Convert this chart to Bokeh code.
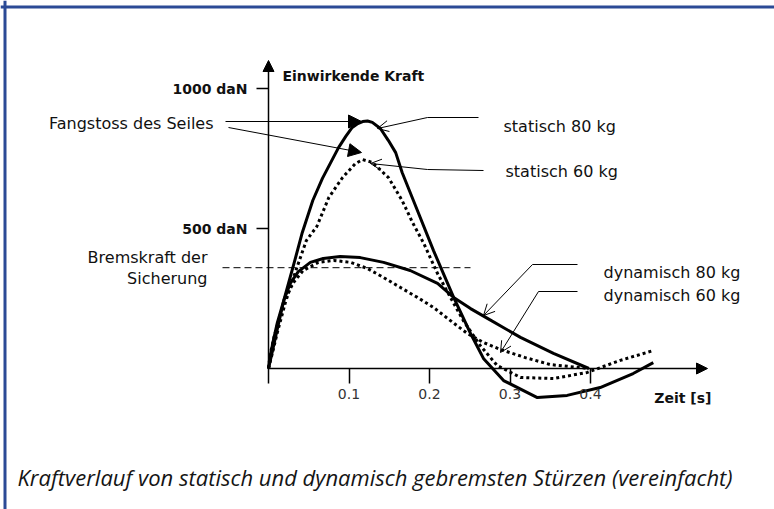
from bokeh.plotting import figure
from bokeh.models import (Range1d, LinearAxis, FixedTicker, Arrow, NormalHead,
                          OpenHead, Label, Span)
from bokeh.embed import file_html
from bokeh.resources import INLINE

# ---------------- data (time in s, force in daN) ----------------
stat80_t = [0, 0.005, 0.010, 0.019, 0.031, 0.042, 0.055, 0.067, 0.087, 0.096, 0.104,
            0.111, 0.117, 0.123, 0.129, 0.139, 0.149, 0.158, 0.166, 0.180, 0.205,
            0.230, 0.251, 0.267, 0.292, 0.334, 0.371, 0.412, 0.453, 0.478]
stat80_f = [0, 64, 129, 243, 368, 486, 600, 679, 789, 829, 861,
            875, 882, 884, 879, 857, 814, 771, 700, 600, 421,
            254, 125, 36, -43, -104, -96, -68, -18, 21]

stat60_t = [0, 0.005, 0.011, 0.021, 0.034, 0.047, 0.060, 0.075, 0.092, 0.108, 0.117,
            0.129, 0.149, 0.166, 0.179, 0.193, 0.210, 0.226, 0.242, 0.263, 0.284,
            0.313, 0.354, 0.396, 0.437, 0.478]
stat60_f = [0, 57, 129, 236, 350, 457, 507, 611, 682, 732, 746,
            736, 682, 600, 521, 446, 339, 254, 171, 82, 11,
            -32, -36, -14, 29, 64]

dyn80_t = [0, 0.002, 0.006, 0.011, 0.019, 0.027, 0.037, 0.052, 0.068, 0.089, 0.114,
           0.143, 0.176, 0.210, 0.230, 0.251, 0.272, 0.313, 0.354, 0.398]
dyn80_f = [0, 43, 100, 164, 243, 304, 346, 379, 393, 400, 396,
           379, 350, 304, 254, 214, 179, 111, 54, 0]

dyn60_t = [0, 0.002, 0.007, 0.014, 0.021, 0.031, 0.043, 0.062, 0.081, 0.102, 0.123,
           0.143, 0.164, 0.185, 0.205, 0.226, 0.247, 0.267, 0.288, 0.319, 0.350, 0.398]
dyn60_f = [0, 50, 114, 186, 250, 307, 350, 379, 386, 379, 357,
           325, 289, 254, 218, 171, 125, 93, 68, 39, 14, 0]

bremskraft = 360          # daN
x_ticks = [0, 0.1, 0.2, 0.3, 0.4]
x_tick_labels = ["", "0.1", "0.2", "0.3", "0.4"]
y_ticks = [500, 1000]
y_tick_labels = ["500 daN", "1000 daN"]

# ---------------- layout helpers (page pixels -> data) ----------------
W, H = 774, 509
OX, OY = 268, 368         # origin in page pixels
SX, SY = 805.0, 0.28      # px per s, px per daN


def X(px):
    return (px - OX) / SX


def Y(py):
    return (OY - py) / SY


p = figure(width=W, height=H, output_backend="svg", toolbar_location=None,
           x_range=Range1d(X(0), X(W)), y_range=Range1d(Y(H), Y(0)),
           x_axis_location=None, y_axis_location=None, min_border=0)
p.outline_line_color = None
p.background_fill_color = "white"
p.border_fill_color = "white"
p.grid.visible = False

# blue frame (top + left)
p.add_layout(Span(location=Y(6.5), dimension="width", line_color="#2b4a96", line_width=3))
p.add_layout(Span(location=X(4.5), dimension="height", line_color="#2b4a96", line_width=3))

FONT = "DejaVu Sans"

# axes
xaxis = LinearAxis(ticker=FixedTicker(ticks=x_ticks), fixed_location=0,
                   axis_line_color=None, major_tick_in=0, major_tick_out=15,
                   major_tick_line_width=1.5, minor_tick_line_color=None,
                   major_label_standoff=5, major_label_text_font=FONT,
                   major_label_text_font_size="14px", major_label_text_color="#333333",
                   major_label_overrides={v: s for v, s in zip(x_ticks, x_tick_labels)})
p.add_layout(xaxis, "below")
yaxis = LinearAxis(ticker=FixedTicker(ticks=y_ticks), fixed_location=0,
                   axis_line_color=None, major_tick_in=0, major_tick_out=12,
                   major_tick_line_width=1.5, minor_tick_line_color=None,
                   major_label_standoff=9, major_label_text_font=FONT,
                   major_label_text_font_size="14px", major_label_text_font_style="bold",
                   major_label_text_color="#111111",
                   major_label_overrides={v: s for v, s in zip(y_ticks, y_tick_labels)})
p.add_layout(yaxis, "left")

# axis arrows
p.add_layout(Arrow(x_start=0, y_start=0, x_end=0, y_end=Y(60), line_width=1.5,
                   end=NormalHead(size=11, fill_color="black", line_color="black")))
p.add_layout(Arrow(x_start=0, y_start=0, x_end=X(707), y_end=0, line_width=1.5,
                   end=NormalHead(size=11, fill_color="black", line_color="black")))

# Bremskraft dashed line
p.line([X(222), X(470)], [bremskraft, bremskraft], line_color="black",
       line_width=1, line_dash="7 4")

# curves
p.line(dyn60_t, dyn60_f, line_color="black", line_width=3, line_dash="3 3", line_join="round")
p.line(stat60_t, stat60_f, line_color="black", line_width=3, line_dash="3 3", line_join="round")
p.line(dyn80_t, dyn80_f, line_color="black", line_width=3, line_join="round")
p.line(stat80_t, stat80_f, line_color="black", line_width=3, line_join="round")

# leaders
p.multi_line([[X(427), X(478)], [X(427), X(483)], [X(532), X(577)], [X(538), X(577)]],
             [[Y(117), Y(117)], [Y(169), Y(170)], [Y(264), Y(264)], [Y(291), Y(291)]],
             line_color="black", line_width=1)
for (x0, y0, x1, y1) in [(427, 117, 377, 128), (427, 169, 370, 163),
                         (532, 264, 483, 315), (538, 291, 500, 352)]:
    p.add_layout(Arrow(x_start=X(x0), y_start=Y(y0), x_end=X(x1), y_end=Y(y1),
                       line_width=1, end=OpenHead(size=11, line_width=1)))
for (x0, y0, x1, y1) in [(225, 121, 361, 121), (228, 127, 361, 152)]:
    p.add_layout(Arrow(x_start=X(x0), y_start=Y(y0), x_end=X(x1), y_end=Y(y1),
                       line_width=1,
                       end=NormalHead(size=13, fill_color="black", line_color="black")))


def lab(px, py, text, size="16px", style="normal", align="left", font=FONT, color="#111111"):
    p.add_layout(Label(x=X(px), y=Y(py), text=text, text_font=font, text_font_size=size,
                       text_font_style=style, text_align=align,
                       text_baseline="alphabetic", text_color=color))


lab(282, 75, "Einwirkende Kraft", size="14px", style="bold")
lab(711, 397, "Zeit [s]", size="14px", style="bold", align="right")
lab(213, 123, "Fangstoss des Seiles", align="right")
lab(207, 257, "Bremskraft der", align="right")
lab(207, 278, "Sicherung", align="right")
lab(503, 126, "statisch 80 kg")
lab(505, 171, "statisch 60 kg")
lab(603, 272, "dynamisch 80 kg")
lab(603, 295, "dynamisch 60 kg")
lab(17, 476, "Kraftverlauf von statisch und dynamisch gebremsten Stürzen (vereinfacht)",
    size="22px", style="italic", font="Open Sans", color="#151515")

open("out.html", "w").write(file_html(p, INLINE))
